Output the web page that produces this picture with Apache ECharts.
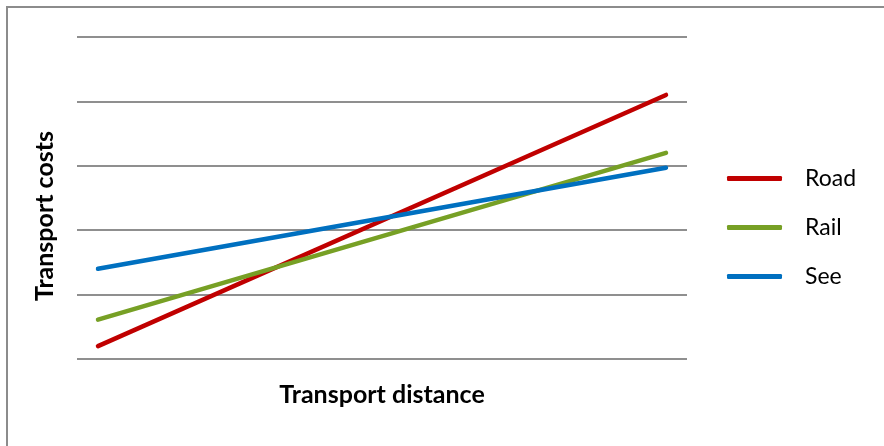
<!DOCTYPE html>
<html>
<head>
<meta charset="utf-8">
<script src="https://cdn.jsdelivr.net/npm/echarts@6/dist/echarts.min.js"></script>
<style>
  html, body { margin: 0; padding: 0; background: #fff; }
  #chart { width: 884px; height: 446px; }
</style>
</head>
<body>
<div id="chart"></div>
<script>
// Transport distance positions (start and end of each cost line)
const distance = [0, 10];
// Transport cost per mode at the two distances
const roadCost = [0.20, 4.10];
const railCost = [0.61, 3.20];
const seeCost = [1.40, 2.97];
const seriesNames = ['Road', 'Rail', 'See'];
const seriesColors = ['#c00000', '#77a025', '#0070c0'];

const FONT = 'Lato, "Open Sans", sans-serif';

function pairs(xs, ys) {
  return xs.map((x, i) => [x, ys[i]]);
}

const chart = echarts.init(document.getElementById('chart'), null, { renderer: 'canvas' });

const option = {
  backgroundColor: '#ffffff',
  animation: false,
  graphic: [{
    type: 'rect',
    shape: { x: 7, y: 7, width: 900, height: 460 },
    style: { fill: 'none', stroke: '#8c8c8c', lineWidth: 2 },
    silent: true
  }],
  grid: { left: 77, right: 197, top: 37, bottom: 87 },
  legend: {
    orient: 'vertical',
    left: 727,
    top: 167,
    padding: 0,
    icon: 'roundRect',
    itemWidth: 55,
    itemHeight: 5,
    itemGap: 26,
    data: seriesNames,
    textStyle: {
      fontFamily: FONT,
      fontSize: 23,
      lineHeight: 20,
      color: '#000',
      padding: [0, 0, 0, 18]
    }
  },
  xAxis: {
    type: 'value',
    min: -0.37,
    max: 10.37,
    name: 'Transport distance',
    nameLocation: 'middle',
    nameGap: 23,
    nameTextStyle: { fontFamily: FONT, fontSize: 25, fontWeight: 'bold', color: '#000' },
    axisLine: { show: false },
    axisTick: { show: false },
    axisLabel: { show: false },
    splitLine: { show: false }
  },
  yAxis: {
    type: 'value',
    min: 0,
    max: 5,
    interval: 1,
    name: 'Transport costs',
    nameLocation: 'middle',
    nameRotate: 90,
    nameGap: 20,
    nameTextStyle: {
      fontFamily: FONT, fontSize: 25, fontWeight: 'bold', color: '#000',
      padding: [0, 36, 0, 0]
    },
    axisLine: { show: false },
    axisTick: { show: false },
    axisLabel: { show: false },
    splitLine: { show: true, lineStyle: { color: '#8f8f8f', width: 2 } }
  },
  series: [roadCost, railCost, seeCost].map((vals, i) => ({
    name: seriesNames[i],
    type: 'line',
    data: pairs(distance, vals),
    showSymbol: false,
    symbol: 'none',
    color: seriesColors[i],
    lineStyle: { color: seriesColors[i], width: 4.5, cap: 'round' }
  }))
};

chart.setOption(option);
</script>
</body>
</html>
